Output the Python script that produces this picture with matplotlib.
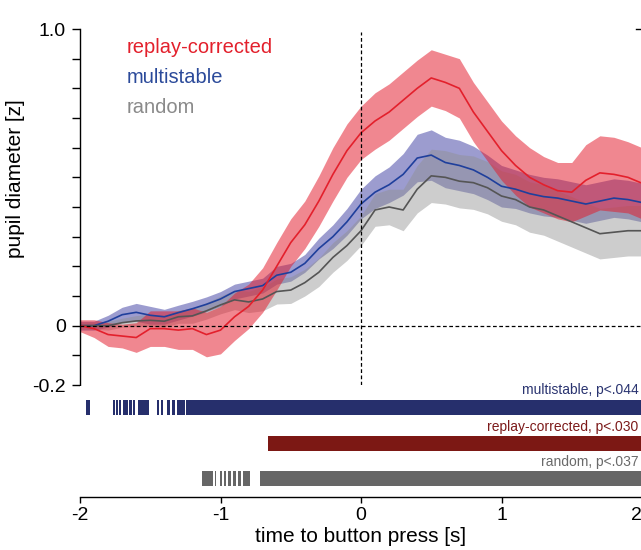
import numpy as np
import matplotlib
matplotlib.use("Agg")
import matplotlib.pyplot as plt
from matplotlib.lines import Line2D

plt.rcParams['font.family'] = ['Liberation Sans', 'DejaVu Sans']

# ---------------- data ----------------
time_s = [-2.0, -1.9, -1.8, -1.7, -1.6, -1.5, -1.4, -1.3, -1.2, -1.1,
          -1.0, -0.9, -0.8, -0.7, -0.6, -0.5, -0.4, -0.3, -0.2, -0.1,
          0.0, 0.1, 0.2, 0.3, 0.4, 0.5, 0.6, 0.7, 0.8, 0.9,
          1.0, 1.1, 1.2, 1.3, 1.4, 1.5, 1.6, 1.7, 1.8, 1.9, 2.0]

replay_mean = [0.0, -0.01, -0.03, -0.035, -0.04, -0.01, -0.01, -0.015, -0.01, -0.03,
               -0.015, 0.03, 0.065, 0.12, 0.2, 0.28, 0.34, 0.42, 0.51, 0.59,
               0.65, 0.69, 0.72, 0.76, 0.80, 0.835, 0.82, 0.80, 0.72, 0.655,
               0.59, 0.54, 0.50, 0.475, 0.455, 0.45, 0.49, 0.515, 0.51, 0.50, 0.48]
replay_sem = [0.02, 0.03, 0.04, 0.04, 0.05, 0.06, 0.06, 0.065, 0.07, 0.075,
              0.08, 0.08, 0.075, 0.075, 0.08, 0.08, 0.08, 0.085, 0.09, 0.09,
              0.09, 0.095, 0.095, 0.095, 0.095, 0.095, 0.095, 0.1, 0.1, 0.1,
              0.1, 0.1, 0.1, 0.095, 0.095, 0.1, 0.12, 0.125, 0.125, 0.12, 0.12]

multi_mean = [0.0, 0.0, 0.015, 0.037, 0.045, 0.035, 0.03, 0.044, 0.057, 0.072,
              0.09, 0.115, 0.125, 0.135, 0.17, 0.18, 0.21, 0.26, 0.30, 0.35,
              0.41, 0.45, 0.475, 0.51, 0.565, 0.575, 0.55, 0.54, 0.525, 0.50,
              0.47, 0.46, 0.445, 0.435, 0.43, 0.42, 0.41, 0.42, 0.43, 0.425, 0.415]
multi_sem = [0.015, 0.015, 0.02, 0.025, 0.03, 0.03, 0.025, 0.025, 0.025, 0.025,
             0.025, 0.025, 0.025, 0.025, 0.03, 0.03, 0.03, 0.035, 0.04, 0.045,
             0.05, 0.055, 0.06, 0.07, 0.08, 0.085, 0.085, 0.085, 0.08, 0.075,
             0.07, 0.065, 0.065, 0.065, 0.065, 0.065, 0.065, 0.065, 0.065, 0.065, 0.065]

random_mean = [0.0, 0.0, 0.0, 0.01, 0.016, 0.018, 0.015, 0.03, 0.033, 0.05,
               0.07, 0.087, 0.08, 0.09, 0.115, 0.12, 0.145, 0.18, 0.23, 0.27,
               0.32, 0.39, 0.40, 0.39, 0.46, 0.505, 0.50, 0.487, 0.482, 0.465,
               0.437, 0.425, 0.40, 0.39, 0.37, 0.35, 0.33, 0.31, 0.315, 0.32, 0.32]
random_sem = [0.012, 0.012, 0.015, 0.015, 0.018, 0.02, 0.02, 0.022, 0.025, 0.028,
              0.03, 0.033, 0.036, 0.04, 0.042, 0.045, 0.045, 0.048, 0.05, 0.05,
              0.05, 0.055, 0.06, 0.07, 0.08, 0.09, 0.09, 0.09, 0.09, 0.088,
              0.085, 0.085, 0.085, 0.085, 0.085, 0.085, 0.085, 0.085, 0.085, 0.085, 0.085]

# significant time windows (start, end) in s
multi_sig = [(-1.957, -1.929), (-1.765, -1.751), (-1.744, -1.730), (-1.722, -1.708),
             (-1.694, -1.658), (-1.648, -1.633), (-1.623, -1.609), (-1.587, -1.509),
             (-1.452, -1.438), (-1.423, -1.409), (-1.381, -1.359), (-1.345, -1.324),
             (-1.310, -1.253), (-1.246, 2.1)]
replay_sig = [(-0.664, 2.1)]
random_sig = [(-1.13, -1.05), (-1.04, -1.03), (-1.006, -0.99), (-0.977, -0.959),
              (-0.947, -0.923), (-0.911, -0.888), (-0.875, -0.852), (-0.84, -0.792),
              (-0.721, 2.1)]

series_names = ['replay-corrected', 'multistable', 'random']
sig_labels = ['multistable, p<.044', 'replay-corrected, p<.030', 'random, p<.037']
x_ticks = [-2, -1, 0, 1, 2]
y_ticks = [-0.2, -0.1, 0.0, 0.1, 0.2, 0.3, 0.4, 0.5, 0.6, 0.7, 0.8, 0.9, 1.0]
y_ticklabels = ['-0.2', '', '0', '', '', '', '', '', '', '', '', '', '1.0']

# ---------------- styling ----------------
RED_L, RED_B = '#e3202c', '#e31a2b'
BLU_L, BLU_B = '#1f3f9c', '#3a3aa0'
GRY_L, GRY_B = '#555555', '#909090'

W, H = 641, 550
fig = plt.figure(figsize=(W / 100, H / 100), dpi=100)

def fx(px):
    return px / W

def fy(py):
    return 1 - py / H

left_px, right_px = 80, 642
ax = fig.add_axes([fx(left_px), fy(385), fx(right_px - left_px), (385 - 29) / H])
t = np.array(time_s)

def draw(mean, sem, lc, bc, alpha):
    m = np.array(mean)
    s = np.array(sem)
    ax.fill_between(t, m - s, m + s, color=bc, alpha=alpha, lw=0)
    ax.plot(t, m, color=lc, lw=1.2)

draw(multi_mean, multi_sem, BLU_L, BLU_B, 0.5)
draw(random_mean, random_sem, GRY_L, GRY_B, 0.45)
draw(replay_mean, replay_sem, RED_L, RED_B, 0.52)

ax.plot([-2, 2.1], [0, 0], color='black', lw=0.9, ls=(0, (3, 2)), zorder=5, clip_on=False)
ax.plot([0, 0], [-0.2, 0.99], color='black', lw=0.9, ls=(0, (3, 2)), zorder=5)

ax.set_xlim(-2, 2)
ax.set_ylim(-0.2, 1.0)
for sp in ['top', 'right', 'bottom']:
    ax.spines[sp].set_visible(False)
ax.spines['left'].set_linewidth(1.0)
ax.set_xticks([])
ax.set_yticks(y_ticks)
ax.set_yticklabels(y_ticklabels)
ax.tick_params(axis='y', direction='out', length=6, width=1.0, labelsize=14, pad=4)
ax.set_ylabel('pupil diameter [z]', fontsize=15)
ax.yaxis.set_label_coords(-0.097, 0.58)

# legend text
leg_colors = ['#e3202c', '#2b4a9a', '#8a8a8a']
for name, col, yy in zip(series_names, leg_colors, [0.939, 0.835, 0.734]):
    ax.text(-1.665, yy, name, color=col, fontsize=14.5, ha='left', va='center')

# ---------------- significance axes ----------------
bx = fig.add_axes([fx(left_px), fy(497), fx(right_px - left_px), (497 - 386) / H])
bx.set_xlim(-2, 2)
bx.set_ylim(497, 386)
bar_cols = ['#262f6c', '#7c1814', '#666666']
txt_cols = ['#2a3470', '#7c1a1a', '#6a6a6a']
bar_tops = [400, 436, 471]
txt_y = [390, 427, 462]
for sig, bc, tc, top, ty, lab in zip([multi_sig, replay_sig, random_sig], bar_cols, txt_cols,
                                     bar_tops, txt_y, sig_labels):
    bx.broken_barh([(a, b - a) for a, b in sig], (top, 14.5), facecolors=bc, lw=0,
                   clip_on=False)
    bx.text(1.975, ty, lab, color=tc, fontsize=10, ha='right', va='center', clip_on=False)

for sp in ['top', 'right', 'left']:
    bx.spines[sp].set_visible(False)
bx.spines['bottom'].set_linewidth(1.0)
bx.spines['bottom'].set_bounds(-2, 2.1)
bx.set_yticks([])
bx.set_xticks(x_ticks)
bx.set_xticklabels([str(v) for v in x_ticks])
bx.tick_params(axis='x', direction='out', length=4, width=1.0, labelsize=14, pad=3)
bx.get_xticklabels()[-1].set_horizontalalignment('right')
bx.set_xlabel('time to button press [s]', fontsize=15, labelpad=2)

# fragment of neighbouring panel axis at top right
fig.add_artist(Line2D([fx(636), fx(641)], [fy(29), fy(29)], color='black', lw=1.0))

fig.savefig('out.png', dpi=100)
